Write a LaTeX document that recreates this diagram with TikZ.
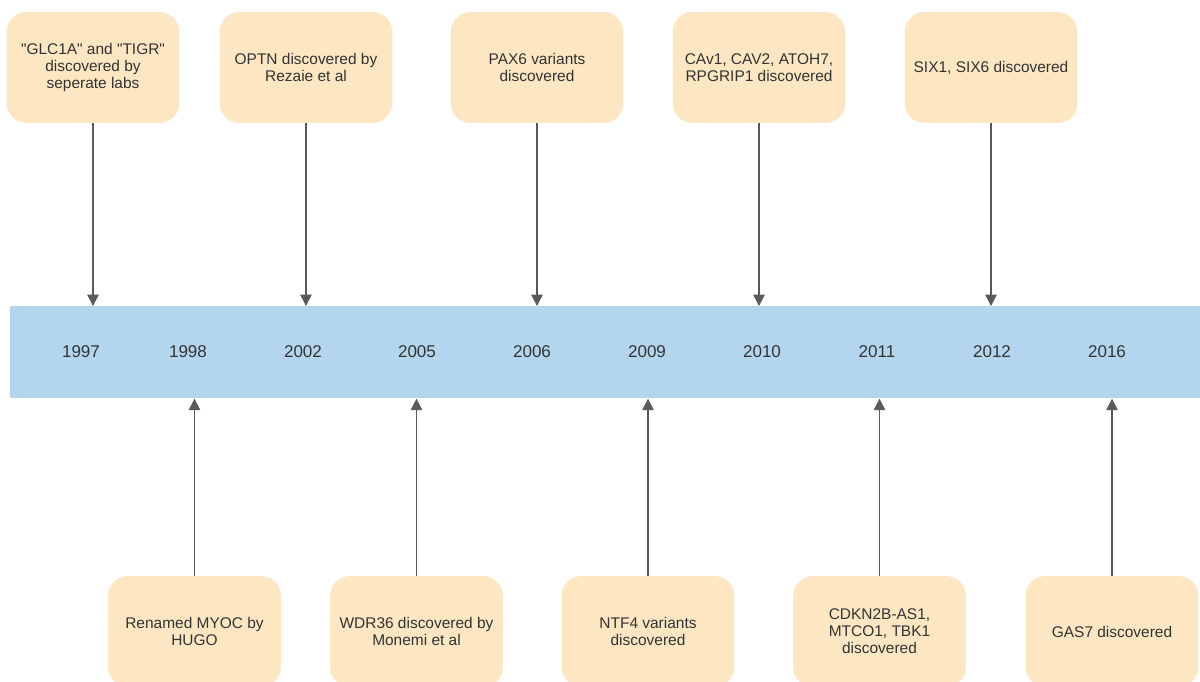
\documentclass[tikz,border=0pt]{standalone}
\usepackage{fontspec}
\setmainfont{Liberation Sans}[Ligatures=TeXOff]
\usepackage{tikz}
\usetikzlibrary{arrows.meta}
\definecolor{peach}{HTML}{FDE7C3}
\definecolor{barblue}{HTML}{B3D6EE}
\definecolor{linkgray}{HTML}{5A5A5A}
\definecolor{textgray}{HTML}{333333}

\begin{document}
\begin{tikzpicture}[x=0.02cm, y=-0.02cm,
  event/.style={fill=peach, rounded corners=0.4cm, minimum width=3.46cm, minimum height=2.22cm, align=center, text=textgray, font=\fontsize{8.8}{9.6}\selectfont},
  yearlabel/.style={text=textgray, font=\fontsize{9.7}{11}\selectfont},
  link/.style={linkgray, line width=0.8pt, -{Triangle[width=6.5pt, length=6.5pt]}}]
\useasboundingbox (0,0) rectangle (1200,681);
\node (bar)[fill=barblue, anchor=north west, inner sep=0, minimum width=23.8cm, minimum height=1.84cm] at (10,306) {};
\foreach \yr/\xx in {1997/81, 1998/188, 2002/303, 2005/417, 2006/532, 2009/647, 2010/762, 2011/877, 2012/992, 2016/1107}
  \node[yearlabel] (y\yr) at (\xx,352) {\yr};
% above the bar
\node[event] (glc) at (93,67.5) {"GLC1A" and "TIGR"\\discovered by\\seperate labs};
\node[event] (optn) at (306,67.5) {OPTN discovered by\\Rezaie et al};
\node[event] (pax) at (537,67.5) {PAX6 variants\\discovered};
\node[event] (cav) at (759,67.5) {CAv1, CAV2, ATOH7,\\RPGRIP1 discovered};
\node[event] (six) at (991,67.5) {SIX1, SIX6 discovered};
% below the bar
\node[event] (myoc) at (194.5,631.5) {Renamed MYOC by\\HUGO};
\node[event] (wdr) at (416.5,631.5) {WDR36 discovered by\\Monemi et al};
\node[event] (ntf) at (648,631.5) {NTF4 variants\\discovered};
\node[event] (cdkn) at (879.5,631.5) {CDKN2B-AS1,\\MTCO1, TBK1\\discovered};
\node[event] (gas) at (1112,631.5) {GAS7 discovered};
\foreach \ev in {glc, optn, pax, cav, six}
  \draw[link] (\ev.south) -- (\ev.south |- bar.north);
\foreach \ev in {myoc, wdr, ntf, cdkn, gas}
  \draw[link] (\ev.north) -- (\ev.north |- bar.south);
\end{tikzpicture}
\end{document}
